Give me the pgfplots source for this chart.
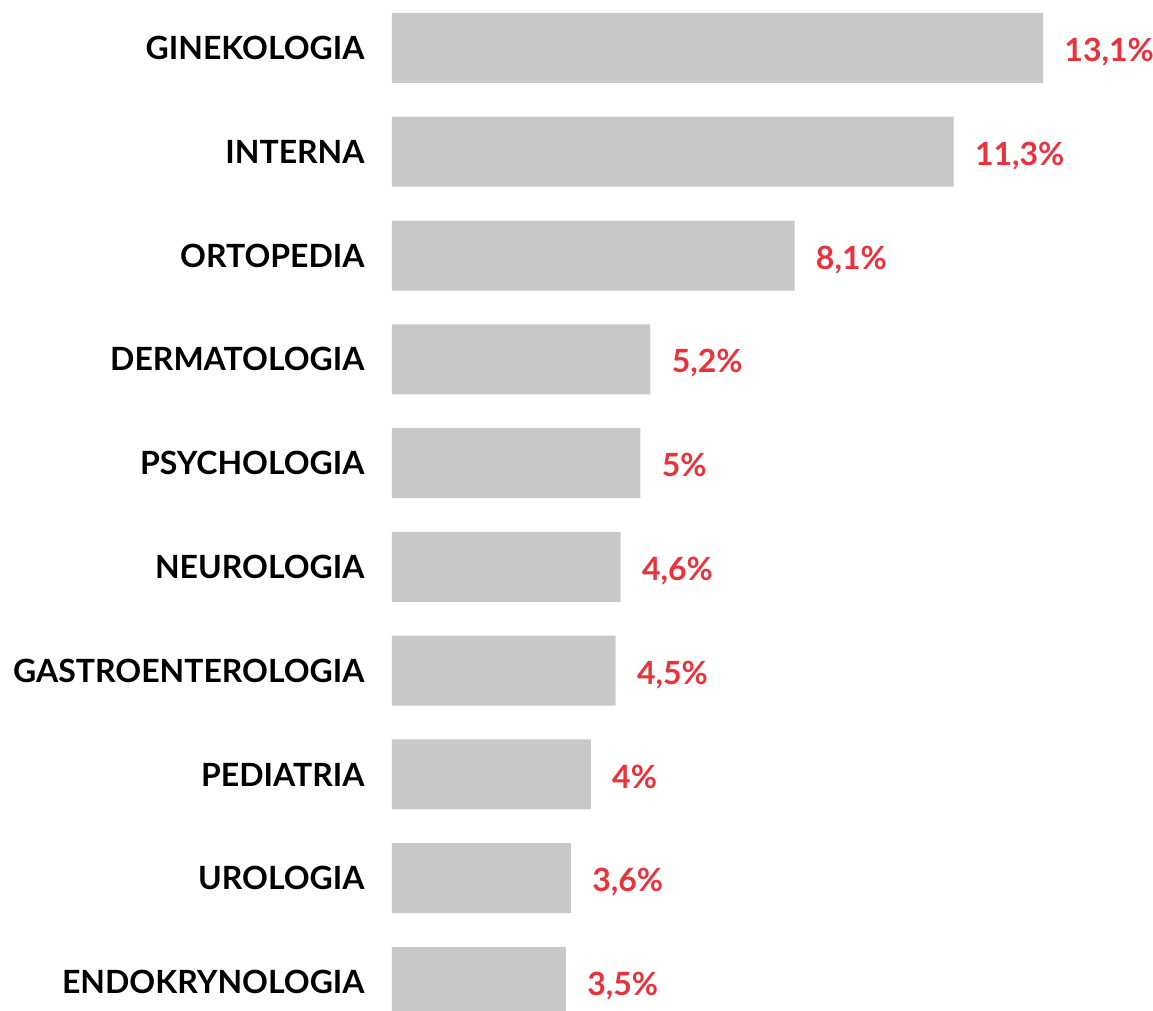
\documentclass[border=0pt]{standalone}
\usepackage{pgfplots}
\pgfplotsset{compat=1.18}
\usepackage{fontspec}
\setmainfont{Lato}
\definecolor{bargray}{HTML}{C8C8C8}
\definecolor{valred}{HTML}{E8323C}
\begin{document}
\begin{tikzpicture}
\begin{axis}[
  scale only axis,
  width=380.5pt, height=505.5pt,
  xmin=0, xmax=15.312,
  ymin=-0.279, ymax=9.462,
  xbar, bar width=35pt,
  axis line style={draw=none},
  major tick style={draw=none},
  major tick length=0pt,
  xtick=\empty,
  ytick={0,1,2,3,4,5,6,7,8,9},
  yticklabels={ENDOKRYNOLOGIA,UROLOGIA,PEDIATRIA,GASTROENTEROLOGIA,NEUROLOGIA,PSYCHOLOGIA,DERMATOLOGIA,ORTOPEDIA,INTERNA,GINEKOLOGIA},
  yticklabel style={font=\fontsize{16}{19}\selectfont\bfseries, anchor=base east, inner sep=0pt, xshift=-13.5pt, yshift=-5.8pt, text=black},
  clip=false,
  nodes near coords={\pgfplotspointmeta\%},
  point meta=explicit symbolic,
  every node near coord/.append style={font=\fontsize{16}{19}\selectfont\bfseries, text=valred, anchor=base west, inner sep=0pt, xshift=10.5pt, yshift=-6.8pt},
]
\addplot[fill=bargray, draw=none] table[x=x, y=y, meta=lab] {
x y lab
13.1 9 13,1
11.3 8 11,3
8.1 7 8,1
5.2 6 5,2
5.0 5 5
4.6 4 4,6
4.5 3 4,5
4.0 2 4
3.6 1 3,6
3.5 0 3,5
};
\coordinate (bl) at (rel axis cs:0,0);
\coordinate (tr) at (rel axis cs:1,1);
\end{axis}
\pgfresetboundingbox
\path[use as bounding box] ([xshift=-196pt]bl) rectangle (tr);
\end{tikzpicture}
\end{document}
